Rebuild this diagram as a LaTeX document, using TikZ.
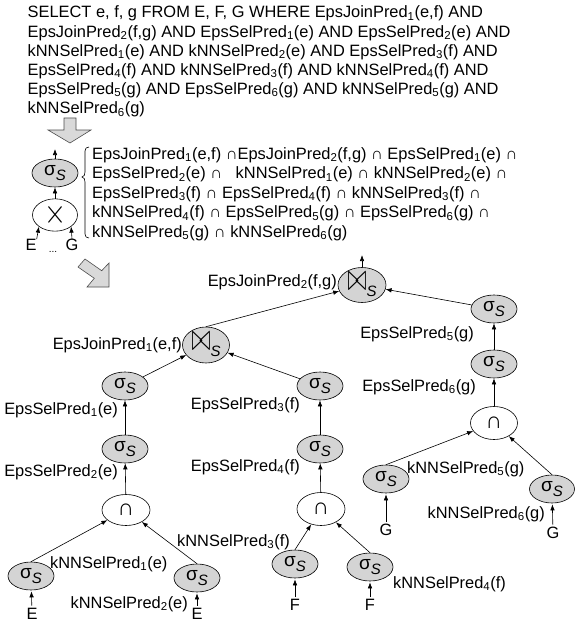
\documentclass[tikz,border=0pt]{standalone}
\usepackage{fontspec}
\setmainfont{Liberation Sans}
\usepackage{graphicx}
\usetikzlibrary{arrows.meta,shapes.geometric}
\newcommand\subn[1]{\textsubscript{#1}}
\newcommand\sigS{{\fontsize{19}{19}\selectfont σ}\raisebox{-5pt}{\fontsize{15}{15}\selectfont\itshape S}}
\newcommand\joinS{\raisebox{-1pt}{\resizebox{19pt}{18pt}{$\bowtie$}}\raisebox{-7pt}{\fontsize{15}{15}\selectfont\itshape S}}
\newcommand\bigcapsym{{\fontsize{23}{23}\selectfont ∩}}
\begin{document}
\begin{tikzpicture}[x=1pt,y=-1pt,font=\fontsize{16.4}{19}\selectfont,
  sel/.style={ellipse,draw,fill=black!17,minimum width=46pt,minimum height=28pt,inner sep=0pt,line width=0.6pt},
  opn/.style={ellipse,draw,fill=white,minimum width=47pt,minimum height=31pt,inner sep=0pt,line width=0.6pt},
  jn/.style={ellipse,draw,fill=black!17,minimum width=48pt,minimum height=35pt,inner sep=0pt,line width=0.6pt},
  lbl/.style={inner sep=0pt},
  arr/.style={-{Latex[length=6pt,width=4.5pt]},line width=0.6pt},
  blk/.style={fill=black!15,draw=black!70,line width=0.6pt}]
\useasboundingbox (0,0) rectangle (575,623);

% query text
\node[lbl,anchor=base west] (t1) at (27.5,18) {SELECT e, f, g FROM E, F, G WHERE EpsJoinPred\subn{1}(e,f) AND};
\node[lbl,anchor=base west] (t2) at (27.5,37.1) {EpsJoinPred\subn{2}(f,g) AND EpsSelPred\subn{1}(e) AND EpsSelPred\subn{2}(e) AND};
\node[lbl,anchor=base west] (t3) at (27.5,56.2) {kNNSelPred\subn{1}(e) AND kNNSelPred\subn{2}(e) AND EpsSelPred\subn{3}(f) AND};
\node[lbl,anchor=base west] (t4) at (27.5,75.3) {EpsSelPred\subn{4}(f) AND kNNSelPred\subn{3}(f) AND kNNSelPred\subn{4}(f) AND};
\node[lbl,anchor=base west] (t5) at (27.5,94.4) {EpsSelPred\subn{5}(g) AND EpsSelPred\subn{6}(g) AND kNNSelPred\subn{5}(g) AND};
\node[lbl,anchor=base west] (t6) at (27.5,113.5) {kNNSelPred\subn{6}(g)};

% block arrows
\draw[blk] (64,118) -- (76,118) -- (76,130) -- (91,130) -- (70,143) -- (48,130) -- (64,130) -- cycle;
\draw[blk] (78,267) -- (94.3,278.3) -- (87,287) -- (109,287) -- (109,263) -- (101.7,270.7) -- (85,259) -- cycle;

% small plan
\node[sel] (s0) at (55,173) {\sigS};
\node[opn,minimum width=45pt,minimum height=28pt] (x0) at (55,215) {\resizebox{22pt}{20pt}{$\times$}};
\node[lbl] (E0) at (31,245) {E};
\node[lbl] (G0) at (72,245) {G};
\node[lbl,font=\fontsize{10}{10}\selectfont] (d0) at (53,252) {...};
\coordinate (top0) at (55,149);
\draw[arr] (s0) -- (top0);
\draw[arr] (x0) -- (s0);
\draw[arr] (E0.north east) -- (x0.south west);
\draw[arr] (G0.north) -- (x0.south east);

% brace
\draw[line width=0.6pt] (89,147) .. controls (86.5,147) and (85,148.5) .. (85,151) -- (85,172) .. controls (85,175) and (84,176.5) .. (82,177) .. controls (84,177.5) and (85,179) .. (85,182) -- (85,234) .. controls (85,236.5) and (86.5,238) .. (89,238);
\node[lbl,anchor=base west] (b1) at (92,159) {EpsJoinPred\subn{1}(e,f) ∩EpsJoinPred\subn{2}(f,g) ∩ EpsSelPred\subn{1}(e) ∩};
\node[lbl,anchor=base west] (b2) at (92,178.5) {EpsSelPred\subn{2}(e) ∩\ \ \ kNNSelPred\subn{1}(e) ∩ kNNSelPred\subn{2}(e) ∩};
\node[lbl,anchor=base west] (b3) at (92,198) {EpsSelPred\subn{3}(f) ∩ EpsSelPred\subn{4}(f) ∩ kNNSelPred\subn{3}(f) ∩};
\node[lbl,anchor=base west] (b4) at (92,217.5) {kNNSelPred\subn{4}(f) ∩ EpsSelPred\subn{5}(g) ∩ EpsSelPred\subn{6}(g) ∩};
\node[lbl,anchor=base west] (b5) at (92,237) {kNNSelPred\subn{5}(g) ∩ kNNSelPred\subn{6}(g)};

% main tree
\node[jn] (J2) at (362,285) {\joinS};
\node[jn,minimum width=47pt,minimum height=36pt] (J1) at (206,345) {\joinS};
\node[sel] (s1) at (125,386) {\sigS};
\node[sel] (s3) at (320,386) {\sigS};
\node[sel] (s2) at (125,449) {\sigS};
\node[sel] (s4) at (320,449) {\sigS};
\node[opn,minimum width=48pt] (i1) at (126,510) {\bigcapsym};
\node[opn,minimum width=48pt,minimum height=33pt] (i2) at (321,509) {\bigcapsym};
\node[sel] (k1) at (31,576) {\sigS};
\node[sel] (k2) at (197,578) {\sigS};
\node[sel] (k3) at (295,564) {\sigS};
\node[sel] (k4) at (370,567) {\sigS};
\node[sel] (s5) at (494,309) {\sigS};
\node[sel] (s6) at (494,364) {\sigS};
\node[opn,minimum height=33pt] (i3) at (494,423) {\bigcapsym};
\node[sel] (k5) at (386,479) {\sigS};
\node[sel,minimum width=45pt] (k6) at (552,489) {\sigS};

\node[lbl] (E1) at (32,613.5) {E};
\node[lbl] (E2) at (197,613.5) {E};
\node[lbl] (F1) at (295,605) {F};
\node[lbl] (F2) at (370,605) {F};
\node[lbl] (G1) at (386,530) {G};
\node[lbl] (G2) at (553,533) {G};

% labels
\node[lbl,anchor=base east] (l0) at (337,286) {EpsJoinPred\subn{2}(f,g)};
\node[lbl,anchor=base east] (l1) at (182,349) {EpsJoinPred\subn{1}(e,f)};
\node[lbl,anchor=base east] (l2) at (118,414) {EpsSelPred\subn{1}(e)};
\node[lbl,anchor=base east] (l3) at (300,409) {EpsSelPred\subn{3}(f)};
\node[lbl,anchor=base east] (l4) at (118,476) {EpsSelPred\subn{2}(e)};
\node[lbl,anchor=base east] (l5) at (300,471) {EpsSelPred\subn{4}(f)};
\node[lbl,anchor=base east] (l6) at (474,338) {EpsSelPred\subn{5}(g)};
\node[lbl,anchor=base east] (l7) at (476,391) {EpsSelPred\subn{6}(g)};
\node[lbl,anchor=base west] (l8) at (407,473) {kNNSelPred\subn{5}(g)};
\node[lbl,anchor=base east] (l9) at (545,518) {kNNSelPred\subn{6}(g)};
\node[lbl,anchor=base west] (l10) at (50,568) {kNNSelPred\subn{1}(e)};
\node[lbl,anchor=base east] (l11) at (188,608) {kNNSelPred\subn{2}(e)};
\node[lbl,anchor=base east] (l12) at (290,546) {kNNSelPred\subn{3}(f)};
\node[lbl,anchor=base west] (l13) at (393,588) {kNNSelPred\subn{4}(f)};

% connectors
\coordinate (top1) at (362,255);
\draw[arr] (J2) -- (top1);
\draw[arr] (J1.north) -- (J2);
\draw[arr] (s5) -- (J2);
\draw[arr] (s1) -- (J1);
\draw[arr] (s3) -- (J1);
\draw[arr] (s2) -- (s1);
\draw[arr] (s4) -- (s3);
\draw[arr] (i1) -- (s2);
\draw[arr] (i2) -- (s4);
\draw[arr] (k1.north) -- (i1);
\draw[arr] (k2.north) -- (i1);
\draw[arr] (k3.north) -- (i2);
\draw[arr] (k4.north) -- (i2);
\draw[arr] (s6) -- (s5);
\draw[arr] (i3) -- (s6);
\draw[arr] (k5.north) -- (i3);
\draw[arr] (k6.north) -- (i3);
\draw[arr,shorten <=2pt,shorten >=1pt] (E1) -- (k1);
\draw[arr,shorten <=2pt,shorten >=1pt] (E2) -- (k2);
\draw[arr,shorten <=2pt,shorten >=1pt] (F1) -- (k3);
\draw[arr,shorten <=2pt,shorten >=1pt] (F2) -- (k4);
\draw[arr,shorten <=2pt,shorten >=1pt] (G1) -- (k5);
\draw[arr,shorten <=2pt,shorten >=1pt] (G2) -- (k6);
\end{tikzpicture}
\end{document}
